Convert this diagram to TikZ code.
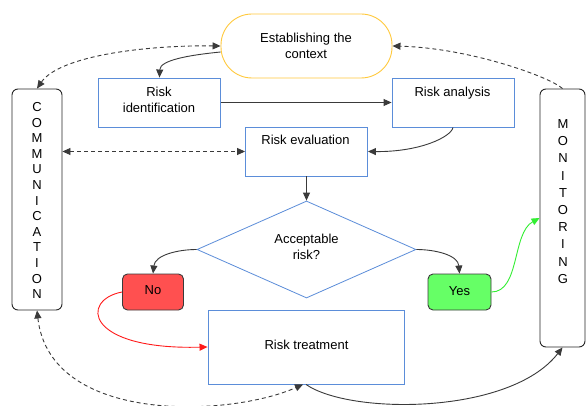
\documentclass[tikz,border=0pt]{standalone}
\usepackage{fontspec}
\setmainfont{Liberation Sans}
\usetikzlibrary{arrows.meta,shapes.geometric}
\definecolor{boxblue}{HTML}{5B8DD9}
\definecolor{ctxyellow}{HTML}{FFC93C}
\definecolor{arrgray}{HTML}{3A3A3A}
\definecolor{nored}{HTML}{FF5050}
\definecolor{yesgreen}{HTML}{66FF66}
\definecolor{redline}{HTML}{FF1A1A}
\definecolor{greenline}{HTML}{33EE33}
\begin{document}
\begin{tikzpicture}[x=1pt,y=1pt,
 txt/.style={font=\fontsize{13}{16}\selectfont, inner sep=0pt},
 bbox/.style={draw=boxblue, line width=0.9pt, inner sep=0pt, minimum width=122pt, minimum height=49pt},
 conn/.style={color=arrgray, line width=0.9pt, -{Triangle[length=8pt,width=7pt]}},
 dconn/.style={conn, dash pattern=on 4pt off 3pt},
 dconntwo/.style={dconn, {Triangle[length=8pt,width=7pt]}-{Triangle[length=8pt,width=7pt]}},
 sidebox/.style={draw=black!85, line width=0.9pt, rounded corners=6pt, inner sep=0pt},
 decbox/.style={draw=arrgray, line width=0.9pt, rounded corners=5pt, inner sep=0pt, minimum width=61pt, minimum height=36pt},
]
\useasboundingbox (0,0) rectangle (586,405);
\fill[white] (0,0) rectangle (586,405);

% shapes
\node[draw=ctxyellow, line width=0.9pt, rounded corners=31pt, minimum width=171pt, minimum height=64pt, inner sep=0pt] (ctx) at (306.5,359) {};
\node[txt, align=center] (ctxT) at (306,358.75) {Establishing the\\context};
\node[bbox] (rid) at (159.5,302.5) {};
\node[txt, align=center] (ridT) at (159,305.25) {Risk\\identification};
\node[bbox] (ran) at (453,302.5) {};
\node[txt, anchor=base] (ranT) at (452.5,308) {Risk analysis};
\node[bbox] (rev) at (306.5,253.5) {};
\node[txt, anchor=base] (revT) at (305.5,260) {Risk evaluation};
\node[draw=boxblue, line width=0.8pt, diamond, minimum width=219pt, minimum height=97pt, inner sep=0pt] (dia) at (306.5,155.5) {};
\node[txt, align=center] (diaT) at (306.5,157.75) {Acceptable\\risk?};
\node[decbox, fill=nored] (no) at (153,113) {};
\node[txt, anchor=base] (noT) at (153,110.5) {No};
\node[decbox, fill=yesgreen, minimum width=63pt] (yes) at (459.5,113) {};
\node[txt, anchor=base] (yesT) at (459.5,110) {Yes};
\node[bbox, minimum width=196pt, minimum height=74pt] (rtr) at (306,58) {};
\node[txt, anchor=base] (rtrT) at (306.5,56) {Risk treatment};
\node[sidebox, minimum width=50pt, minimum height=221pt] (comm) at (37,205.5) {};
\node[txt, align=center, font=\fontsize{13}{15.6}\selectfont] (commT) at (37,204.5) {C\\O\\M\\M\\U\\N\\I\\C\\A\\T\\I\\O\\N};
\node[sidebox, minimum width=45pt, minimum height=258pt] (mon) at (562.5,187) {};
\node[txt, align=center, font=\fontsize{13}{17.2}\selectfont] (monT) at (563,203.5) {M\\O\\N\\I\\T\\O\\R\\I\\N\\G};

% solid connectors
\draw[conn] ([yshift=-6pt]ctx.west) .. controls (190,350) and (160,345) .. (rid.north);
\draw[conn] (rid.east) -- (ran.west);
\draw[conn] (ran.south) .. controls (451,268) and (420,253) .. (rev.east);
\draw[conn] (rev.south) -- (dia.north);
\draw[conn] (dia.west) .. controls (178,155.5) and (155,150) .. (no.north);
\draw[conn] (dia.east) .. controls (435,155.5) and (458,150) .. (yes.north);
\draw[conn, color=redline] (no.west) .. controls (80,105) and (85,55) .. (rtr.west);
\draw[conn, color=greenline] (yes.east) .. controls (520,113) and (512,172) .. (mon.west);
\draw[conn] (rtr.south) .. controls (350,-10) and (510,-10) .. (mon.south);

% dashed connectors
\draw[dconntwo] (comm.north) .. controls (60,350) and (150,360) .. (ctx.west);
\draw[dconntwo] (rev.west -| comm.east) -- (rev.west);
\draw[dconn] (mon.north) .. controls (550,328) and (470,357) .. (ctx.east);
\draw[dconntwo] (comm.south) .. controls (50,-20) and (230,-12) .. ([xshift=-3pt]rtr.south);
\end{tikzpicture}
\end{document}
